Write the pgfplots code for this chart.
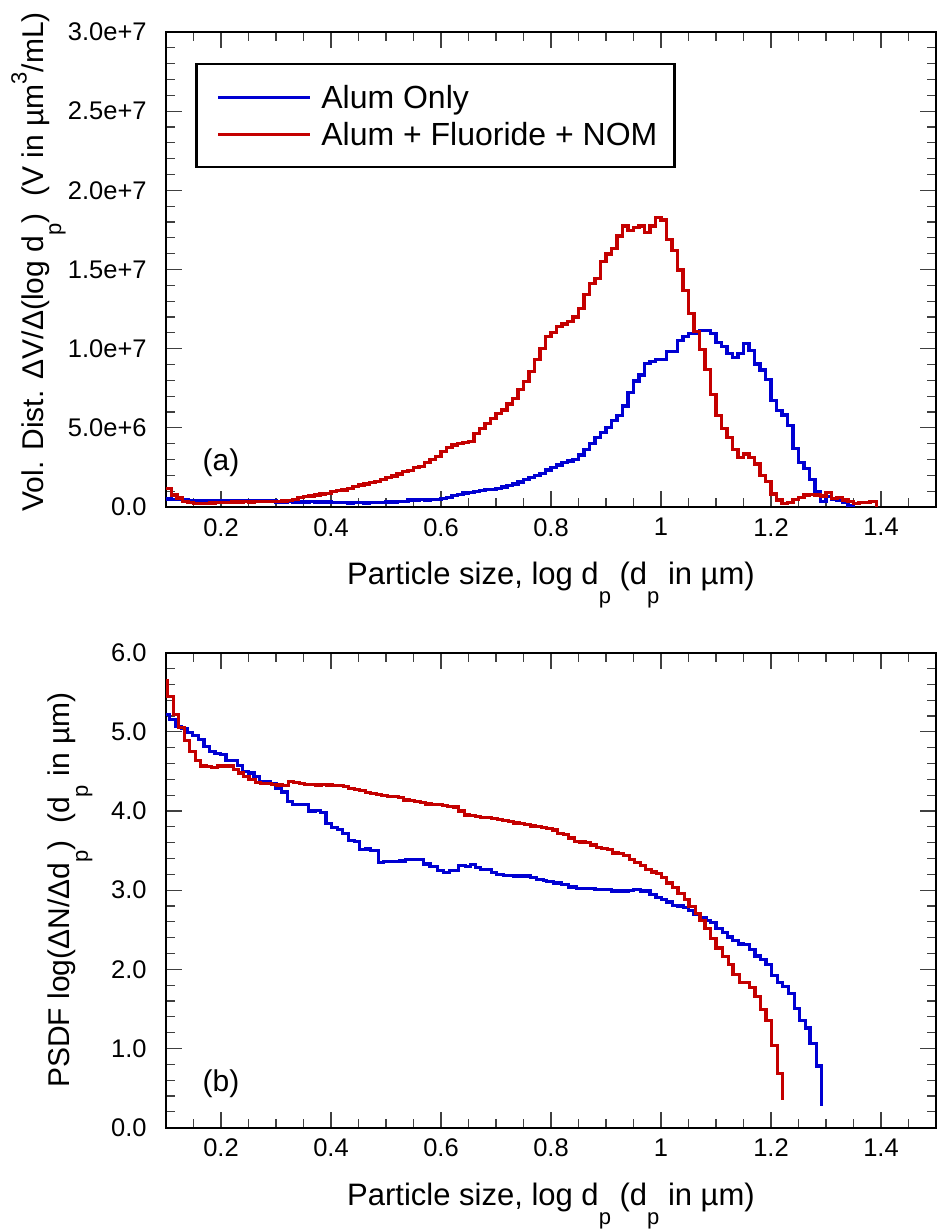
\documentclass[border=0pt]{standalone}
\usepackage{fontspec}
\setmainfont{Liberation Sans}
\usepackage{pgfplots}
\pgfplotsset{compat=1.18}
\usepackage{pgfplotstable}
\definecolor{cblue}{RGB}{0,0,210}
\definecolor{cred}{RGB}{196,0,0}
\newcommand{\sub}[1]{\raisebox{-0.6em}{\fontsize{11}{11}\selectfont #1}}
\newcommand{\sups}[1]{\raisebox{0.55em}{\fontsize{11}{11}\selectfont #1}}

% Top panel (a): values in units of 1e6 um^3/mL
\pgfplotstableread{
x y
0.100 0.50
0.110 0.48
0.120 0.46
0.130 0.44
0.140 0.42
0.150 0.42
0.160 0.41
0.170 0.42
0.180 0.42
0.190 0.41
0.200 0.42
0.210 0.42
0.220 0.41
0.230 0.42
0.240 0.42
0.250 0.42
0.260 0.41
0.270 0.42
0.280 0.42
0.290 0.40
0.300 0.32
0.310 0.32
0.320 0.33
0.330 0.32
0.340 0.32
0.350 0.32
0.360 0.33
0.370 0.32
0.380 0.31
0.390 0.32
0.400 0.30
0.410 0.26
0.420 0.26
0.430 0.25
0.440 0.26
0.450 0.26
0.460 0.25
0.470 0.26
0.480 0.27
0.490 0.28
0.500 0.32
0.510 0.32
0.520 0.33
0.530 0.34
0.540 0.44
0.550 0.44
0.560 0.45
0.570 0.44
0.580 0.45
0.590 0.46
0.600 0.52
0.610 0.62
0.620 0.72
0.630 0.80
0.640 0.88
0.650 0.94
0.660 0.98
0.670 1.03
0.680 1.08
0.690 1.12
0.700 1.18
0.710 1.26
0.720 1.34
0.730 1.45
0.740 1.58
0.750 1.72
0.760 1.85
0.770 2.00
0.780 2.13
0.790 2.34
0.800 2.50
0.810 2.65
0.820 2.80
0.830 2.90
0.840 3.00
0.850 3.28
0.860 3.64
0.870 4.02
0.880 4.40
0.890 4.70
0.900 5.03
0.910 5.45
0.920 5.80
0.930 6.38
0.940 7.22
0.950 7.96
0.960 8.34
0.970 9.08
0.980 9.18
0.990 9.33
1.000 9.33
1.010 9.81
1.020 9.81
1.030 10.50
1.040 10.76
1.050 10.97
1.060 10.97
1.070 11.14
1.080 11.14
1.090 10.97
1.100 10.38
1.110 10.13
1.120 9.71
1.130 9.46
1.140 9.67
1.150 10.34
1.160 9.87
1.170 9.03
1.180 8.65
1.190 8.06
1.200 6.71
1.210 6.08
1.220 5.81
1.230 5.14
1.240 3.71
1.250 2.80
1.260 2.44
1.270 1.75
1.280 0.97
1.290 0.34
1.300 0.65
1.310 0.50
1.320 0.40
1.330 0.30
1.340 0.10
1.350 0.00
}\topblue

\pgfplotstableread{
x y
0.100 1.15
0.110 0.76
0.120 0.57
0.130 0.35
0.140 0.30
0.150 0.20
0.160 0.20
0.170 0.20
0.180 0.25
0.190 0.28
0.200 0.28
0.210 0.30
0.220 0.32
0.230 0.32
0.240 0.33
0.250 0.32
0.260 0.33
0.270 0.34
0.280 0.34
0.290 0.35
0.300 0.36
0.310 0.38
0.320 0.40
0.330 0.45
0.340 0.60
0.350 0.65
0.360 0.70
0.370 0.76
0.380 0.82
0.390 0.87
0.400 0.97
0.410 1.03
0.420 1.07
0.430 1.16
0.440 1.28
0.450 1.39
0.460 1.45
0.470 1.53
0.480 1.60
0.490 1.74
0.500 1.85
0.510 1.96
0.520 2.08
0.530 2.23
0.540 2.33
0.550 2.50
0.560 2.58
0.570 2.80
0.580 3.00
0.590 3.20
0.600 3.49
0.610 3.75
0.620 3.92
0.630 4.02
0.640 4.08
0.650 4.13
0.660 4.65
0.670 4.97
0.680 5.29
0.690 5.60
0.700 5.92
0.710 6.13
0.720 6.50
0.730 6.87
0.740 7.40
0.750 7.92
0.760 8.55
0.770 9.30
0.780 10.00
0.790 10.76
0.800 11.00
0.810 11.40
0.820 11.56
0.830 11.70
0.840 12.00
0.850 12.55
0.860 13.40
0.870 14.10
0.880 14.45
0.890 15.50
0.900 15.98
0.910 16.34
0.920 17.12
0.930 17.75
0.940 17.45
0.950 17.66
0.960 17.75
0.970 17.35
0.980 17.75
0.990 18.30
1.000 18.13
1.010 16.90
1.020 16.20
1.030 14.97
1.040 13.66
1.050 12.20
1.060 11.07
1.070 9.96
1.080 8.70
1.090 7.12
1.100 5.79
1.110 4.97
1.120 4.38
1.130 3.64
1.140 3.11
1.150 3.35
1.160 3.14
1.170 2.72
1.180 1.98
1.190 1.60
1.200 0.82
1.210 0.44
1.220 0.23
1.230 0.30
1.240 0.49
1.250 0.59
1.260 0.76
1.270 0.80
1.280 0.76
1.290 0.70
1.300 0.90
1.310 0.55
1.320 0.60
1.330 0.44
1.340 0.34
1.350 0.23
1.360 0.27
1.370 0.27
1.380 0.34
1.392 0.00
}\topred

% Bottom panel (b)
\pgfplotstableread{
x y
0.100 5.22
0.107 5.16
0.118 5.07
0.128 5.04
0.139 4.99
0.148 4.95
0.159 4.90
0.169 4.82
0.179 4.75
0.189 4.73
0.199 4.71
0.209 4.64
0.220 4.64
0.230 4.58
0.239 4.50
0.250 4.48
0.260 4.44
0.270 4.37
0.280 4.37
0.290 4.35
0.300 4.29
0.310 4.24
0.321 4.12
0.330 4.08
0.341 4.08
0.350 4.08
0.359 4.00
0.371 4.01
0.381 3.98
0.391 3.84
0.401 3.79
0.412 3.77
0.421 3.72
0.432 3.63
0.442 3.62
0.452 3.51
0.462 3.52
0.472 3.50
0.486 3.35
0.495 3.36
0.505 3.36
0.515 3.36
0.525 3.37
0.535 3.39
0.545 3.39
0.556 3.39
0.568 3.33
0.580 3.30
0.593 3.25
0.604 3.22
0.615 3.25
0.632 3.31
0.644 3.30
0.653 3.32
0.662 3.29
0.672 3.26
0.682 3.26
0.692 3.22
0.701 3.20
0.713 3.19
0.722 3.19
0.732 3.18
0.744 3.18
0.752 3.18
0.762 3.16
0.774 3.14
0.786 3.12
0.792 3.11
0.804 3.09
0.819 3.07
0.832 3.04
0.847 3.02
0.859 3.02
0.870 3.02
0.880 3.01
0.889 3.01
0.900 3.01
0.910 2.99
0.919 2.99
0.930 2.99
0.941 3.00
0.950 3.01
0.962 2.99
0.971 2.99
0.980 2.95
0.991 2.91
1.001 2.88
1.010 2.85
1.021 2.81
1.031 2.80
1.041 2.78
1.050 2.74
1.060 2.69
1.071 2.66
1.082 2.62
1.090 2.59
1.100 2.52
1.112 2.47
1.121 2.41
1.130 2.36
1.141 2.32
1.150 2.31
1.161 2.25
1.171 2.17
1.181 2.12
1.191 2.06
1.201 1.92
1.212 1.83
1.221 1.78
1.232 1.70
1.242 1.51
1.252 1.35
1.262 1.26
1.271 1.06
1.283 0.78
1.292 0.27
}\botblue

\pgfplotstableread{
x y
0.100 5.65
0.103 5.45
0.113 5.22
0.123 5.06
0.133 4.89
0.143 4.75
0.153 4.64
0.163 4.57
0.173 4.56
0.183 4.55
0.193 4.57
0.203 4.57
0.213 4.57
0.222 4.52
0.232 4.48
0.241 4.44
0.251 4.40
0.262 4.36
0.272 4.35
0.282 4.35
0.292 4.34
0.301 4.33
0.312 4.32
0.322 4.37
0.332 4.36
0.342 4.35
0.352 4.34
0.362 4.34
0.372 4.33
0.382 4.34
0.392 4.33
0.402 4.32
0.412 4.32
0.422 4.31
0.432 4.28
0.442 4.27
0.452 4.26
0.462 4.23
0.472 4.22
0.482 4.21
0.492 4.20
0.502 4.18
0.512 4.18
0.522 4.17
0.532 4.14
0.542 4.13
0.552 4.12
0.562 4.11
0.572 4.09
0.582 4.08
0.592 4.08
0.602 4.07
0.612 4.06
0.622 4.05
0.632 4.00
0.642 3.95
0.652 3.94
0.662 3.93
0.672 3.92
0.682 3.92
0.692 3.91
0.702 3.89
0.712 3.88
0.722 3.87
0.732 3.85
0.742 3.84
0.752 3.83
0.762 3.81
0.772 3.80
0.782 3.79
0.792 3.78
0.802 3.76
0.812 3.72
0.822 3.70
0.832 3.66
0.842 3.62
0.852 3.61
0.862 3.60
0.872 3.57
0.882 3.54
0.892 3.53
0.902 3.51
0.912 3.47
0.922 3.46
0.932 3.44
0.942 3.39
0.952 3.35
0.962 3.31
0.972 3.26
0.982 3.23
0.992 3.21
1.001 3.16
1.010 3.09
1.021 3.03
1.031 2.96
1.042 2.88
1.051 2.79
1.062 2.71
1.071 2.62
1.080 2.52
1.090 2.39
1.100 2.27
1.112 2.16
1.122 2.06
1.131 1.94
1.142 1.83
1.151 1.83
1.161 1.77
1.171 1.66
1.181 1.49
1.191 1.35
1.201 1.04
1.212 0.68
1.221 0.35
}\botred

\pgfplotsset{
  panel/.style={
    scale only axis, width=385pt, height=237.5pt,
    xmin=0.1, xmax=1.5,
    xtick={0.2,0.4,0.6,0.8,1.0,1.2,1.4},
    xticklabels={0.2,0.4,0.6,0.8,1,1.2,1.4},
    minor xtick={0.15,0.25,0.3,0.35,0.45,0.5,0.55,0.65,0.7,0.75,0.85,0.9,0.95,1.05,1.1,1.15,1.25,1.3,1.35,1.45},
    tick align=inside,
    major tick length=8pt, minor tick length=4.5pt,
    tick style={black!75, line width=0.6pt},
    axis line style={line width=0.8pt},
    tick label style={font=\fontsize{12.75}{12.75}\selectfont},
    xticklabel style={inner sep=0pt, anchor=north, yshift=-5.5pt},
    yticklabel style={inner sep=0pt, anchor=east, xshift=-9.5pt},
    xlabel style={at={(rel axis cs:0.5,0)}, anchor=base, yshift=-39pt, inner sep=0pt, font=\fontsize{15.5}{15.5}\selectfont},
    ylabel style={anchor=base, inner sep=0pt, font=\fontsize{15}{15}\selectfont},
    every axis plot/.append style={const plot, line width=1.6pt, mark=none},
    xlabel={Particle size, log d\sub{p} (d\sub{p} in µm)},
  }
}

\begin{document}
\begin{tikzpicture}
\useasboundingbox (0,0) rectangle (469.5pt,615.5pt);

\begin{axis}[panel,
  at={(83pt,362pt)}, anchor=south west,
  ymin=0, ymax=30,
  ytick={0,5,10,15,20,25,30},
  yticklabels={0.0,5.0e+6,1.0e+7,1.5e+7,2.0e+7,2.5e+7,3.0e+7},
  minor y tick num=4,
  ylabel style={at={(rel axis cs:-0.1597,0.516)}},
  ylabel={Vol. Dist. ΔV/Δ(log d\sub{p})\ \ (V in µm\sups{3}/mL)},
  legend style={at={(rel axis cs:0.0377,0.935)}, anchor=north west,
    draw=black, line width=1.3pt, inner xsep=0pt, inner ysep=7.25pt,
    row sep=0pt, column sep=0pt,
    font=\fontsize{16}{16}\selectfont,
    nodes={inner sep=0pt, text height=11.5pt, text depth=0pt}},
  legend cell align=left,
  legend image code/.code={
    \path[draw=none,fill=none] (-11pt,-9.25pt) rectangle (51.5pt,9.25pt);
    \draw[line width=1.5pt] (0pt,0pt) -- (46pt,0pt);},
]
\addplot[cblue] table[x=x,y=y] {\topblue};
\addlegendentry{Alum Only}
\addplot[cred] table[x=x,y=y] {\topred};
\addlegendentry{Alum + Fluoride + NOM\hspace*{8.5pt}}
\node[font=\fontsize{15}{15}\selectfont] at (axis cs:0.2,2.78) {(a)};
\end{axis}

\begin{axis}[panel,
  at={(83pt,51.65pt)}, anchor=south west,
  ymin=0, ymax=6,
  ytick={0,1,2,3,4,5,6},
  yticklabels={0.0,1.0,2.0,3.0,4.0,5.0,6.0},
  minor y tick num=4,
  ylabel style={at={(rel axis cs:-0.1247,0.5)}},
  ylabel={PSDF log(ΔN/Δd\sub{p})\ \ (d\sub{p} in µm)},
]
\addplot[cblue] table[x=x,y=y] {\botblue};
\addplot[cred] table[x=x,y=y] {\botred};
\node[font=\fontsize{15}{15}\selectfont] at (axis cs:0.2,0.56) {(b)};
\end{axis}
\end{tikzpicture}
\end{document}
